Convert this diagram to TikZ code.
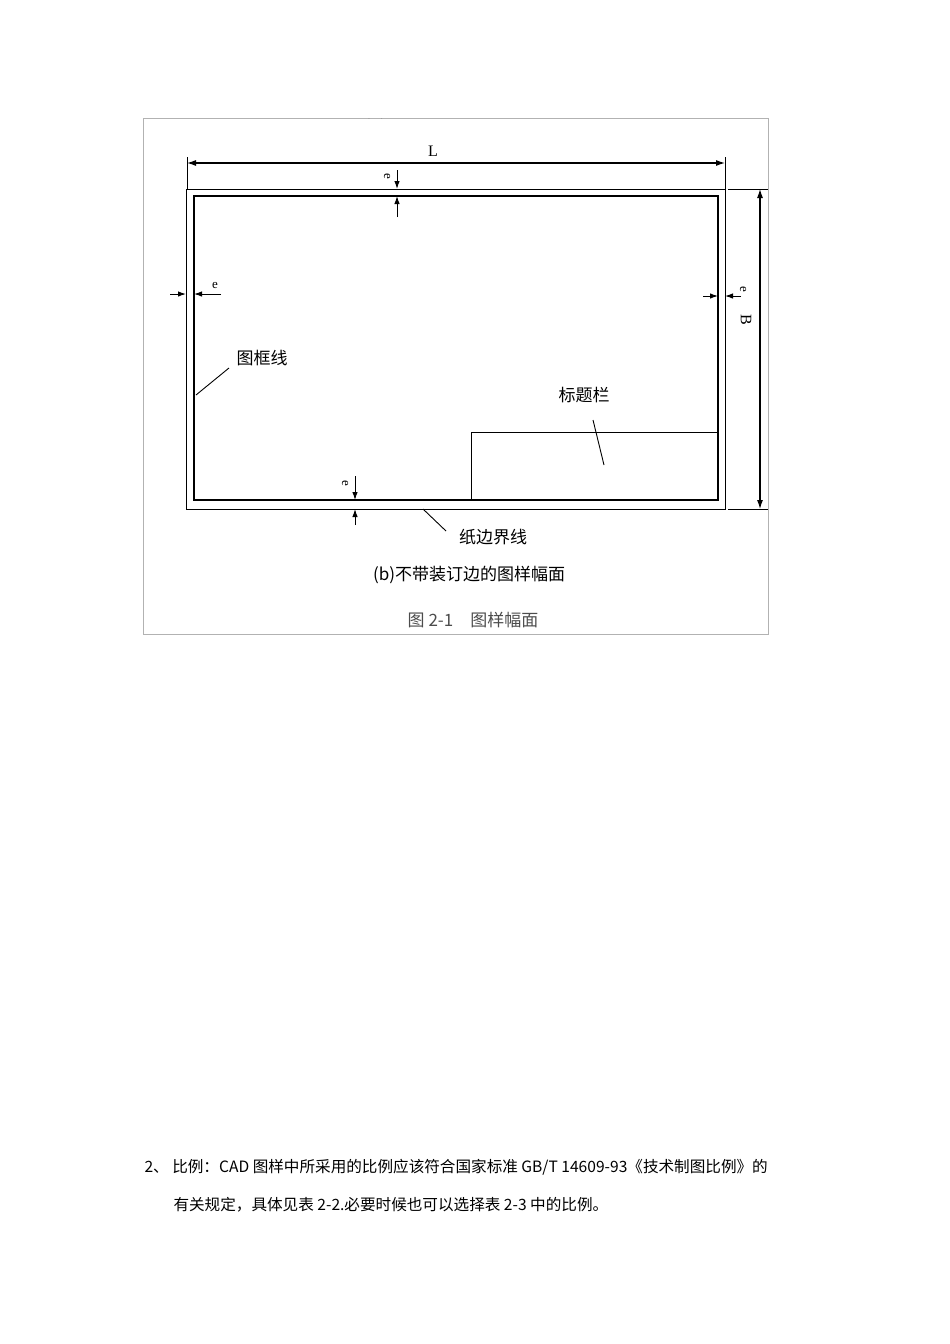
\documentclass[tikz,border=0pt]{standalone}
\usepackage{fontspec}
\setmainfont{Liberation Serif}
\newfontfamily\cjk{Noto Sans CJK SC}
\usetikzlibrary{arrows.meta}
\begin{document}
\begin{tikzpicture}[x=1pt,y=-1pt,
  dim/.style={line width=1pt,-{Latex[length=8pt,width=5.5pt]}},
  lbl/.style={font=\cjk\fontsize{17}{17}\selectfont},
  thin/.style={line width=0.9pt}]
\useasboundingbox (0,0) rectangle (950,1344);
\draw[gray!60,line width=0.8pt] (143,118) rectangle (768,634);
\begin{scope}
\clip (143,118) rectangle (768,140);
\node[lbl,text=black!85] (ta) at (452,110) {(a)带装订边的图样幅面};
\end{scope}
\draw[line width=1pt] (186,189) rectangle (725,509);
\draw[line width=2.4pt] (194,196) rectangle (718,500);
\draw[thin] (471,500) -- (471,432) -- (718,432);
% L
\coordinate (l1) at (187,163); \coordinate (l2) at (725,163);
\draw[thin] (187,157) -- (187,189); \draw[thin] (725,157) -- (725,189);
\draw[line width=1.1pt,{Latex[length=9pt,width=6pt]}-{Latex[length=9pt,width=6pt]}] (l1) -- (l2);
\node[font=\fontsize{16}{16}\selectfont] (L) at (433,151) {L};
% B
\draw[thin] (728,189) -- (768,189); \draw[thin] (728,509) -- (768,509);
\coordinate (b1) at (760,189); \coordinate (b2) at (760,509);
\draw[line width=1.1pt,{Latex[length=9pt,width=6pt]}-{Latex[length=9pt,width=6pt]}] (b1) -- (b2);
\node[font=\fontsize{16}{16}\selectfont,rotate=-90] (B) at (746,320) {B};
% e arrows
\draw[dim] (397,170) -- (397,189); \draw[dim] (397,217) -- (397,196);
\node[font=\fontsize{13}{13}\selectfont,rotate=-90] (e1) at (387,176) {e};
\draw[dim] (170,294) -- (186,294); \draw[dim] (221,294) -- (194,294);
\node[font=\fontsize{13}{13}\selectfont] (e2) at (215,285) {e};
\draw[dim] (703,296) -- (718,296); \draw[dim] (741,296) -- (725,296);
\node[font=\fontsize{13}{13}\selectfont,rotate=-90] (e3) at (743,289) {e};
\draw[dim] (355,476) -- (355,500); \draw[dim] (355,525) -- (355,509);
\node[font=\fontsize{13}{13}\selectfont,rotate=-90] (e4) at (345,483) {e};
% labels
\node[lbl] (tk) at (262,358) {图框线};
\draw[thin] (196,395) -- (229,368);
\node[lbl] (bt) at (584,395) {标题栏};
\draw[thin] (593,420) -- (604,465);
\node[lbl] (zb) at (493,537) {纸边界线};
\draw[thin] (423,509) -- (446,531);
\node[lbl] (cb) at (469,575) {(b)不带装订边的图样幅面};
\node[font=\cjk\fontsize{17}{17}\selectfont,text=black!70] (cap) at (473,620) {图 2-1\quad 图样幅面};
% paragraph
\node[anchor=west,font=\cjk\fontsize{15.6}{15.6}\selectfont] (p1) at (141,1167) {2、 比例：CAD 图样中所采用的比例应该符合国家标准 GB/T 14609-93《技术制图比例》的};
\node[anchor=west,font=\cjk\fontsize{15.6}{15.6}\selectfont] (p2) at (170,1205) {有关规定，具体见表 2-2.必要时候也可以选择表 2-3 中的比例。};
\end{tikzpicture}
\end{document}
